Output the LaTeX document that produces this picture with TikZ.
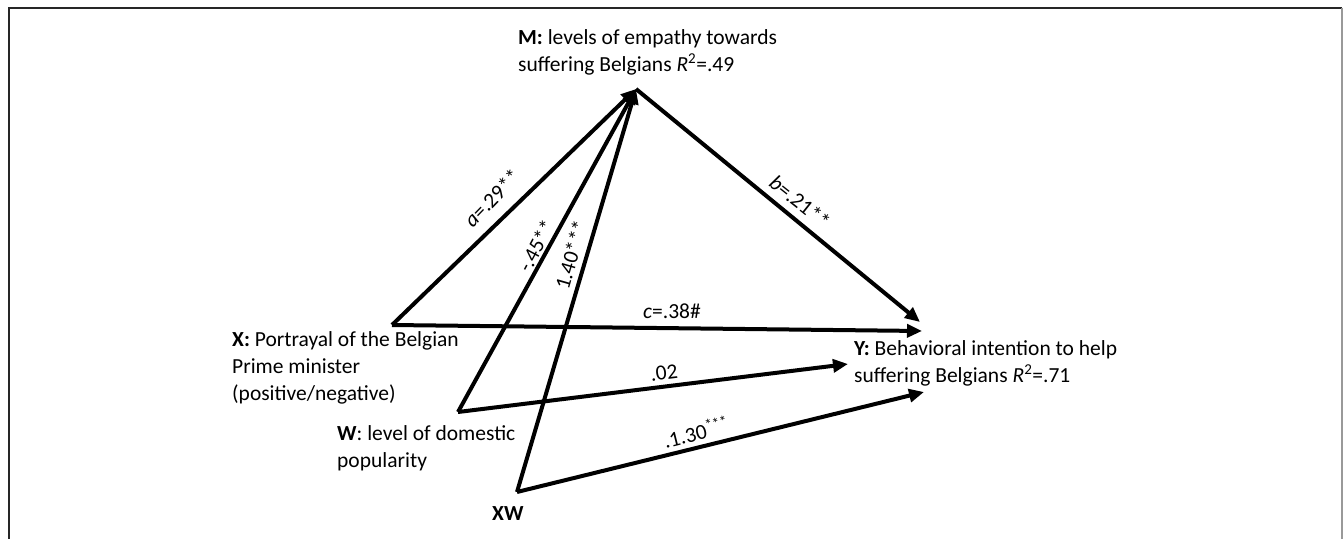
\documentclass[tikz,border=0pt]{standalone}
\usepackage{fontspec}
\setmainfont{Carlito}
\usetikzlibrary{arrows.meta}
\begin{document}
\begin{tikzpicture}[x=1pt,y=-1pt,
  conn/.style={line width=4pt, -{Triangle[length=15pt,width=13pt]}},
  lbl/.style={font=\fontsize{21.5}{26.8}\selectfont, align=left, anchor=base west, inner sep=0pt},
  coef/.style={font=\fontsize{21.5}{24}\selectfont, inner sep=0pt},
  frameline/.style={line width=2pt, draw=black!85}]
\useasboundingbox (0,0) rectangle (1343,538);
% frame
\coordinate (fbl) at (8.5,545);
\coordinate (ftl) at (8.5,7.5);
\coordinate (ftr) at (1342,7.5);
\coordinate (fbr) at (1342,545);
\draw[frameline] (fbl) -- (ftl) -- (ftr);
\draw[line width=1.2pt, draw=black!40] (ftr) -- (fbr);
% vertices
\coordinate (X) at (392,325);
\coordinate (W) at (458,412);
\coordinate (XW) at (517,492);
\coordinate (M) at (636,89);
\coordinate (Yb) at (920,322);
\coordinate (Yc) at (922,331);
\coordinate (Yw) at (848,364);
\coordinate (Yxw) at (924,392);
% texts (anchored at the baseline of the last line)
\node[lbl] (Mlab) at (518,71) {\textbf{M:} levels of empathy towards\\suffering Belgians \textit{R}\textsuperscript{2}=.49};
\node[lbl] (Xlab) at (232,400) {\textbf{X:} Portrayal of the Belgian\\Prime minister\\(positive/negative)};
\node[lbl] (Wlab) at (337,467) {\textbf{W}: level of domestic\\popularity};
\node[lbl] (Ylab) at (854,382) {\textbf{Y:} Behavioral intention to help\\suffering Belgians \textit{R}\textsuperscript{2}=.71};
\node[lbl] (XWlab) at (492,520) {\textbf{XW}};
% connectors
\draw[conn] (X) -- (M);
\draw[conn] (W) -- (M);
\draw[conn] (XW) -- (M);
\draw[conn] (M) -- (Yb);
\draw[conn] (X) -- (Yc);
\draw[conn] (W) -- (Yw);
\draw[conn] (XW) -- (Yxw);
% coefficients
\node[coef, rotate=46] (la) at (492,198) {\textit{a}=.29**};
\node[coef, rotate=62] (lw) at (536,246) {-.45**};
\node[coef, rotate=74] (lxw) at (571,255) {1.40***};
\node[coef, rotate=-38.5] (lb) at (800,202) {\textit{b}=.21**};
\node[coef] (lc) at (672,311) {\textit{c}=.38\#};
\node[coef, rotate=7] (l02) at (664,373) {.02};
\node[coef, rotate=14] (l130) at (696,432) {.1.30\textsuperscript{***}};
\end{tikzpicture}
\end{document}
